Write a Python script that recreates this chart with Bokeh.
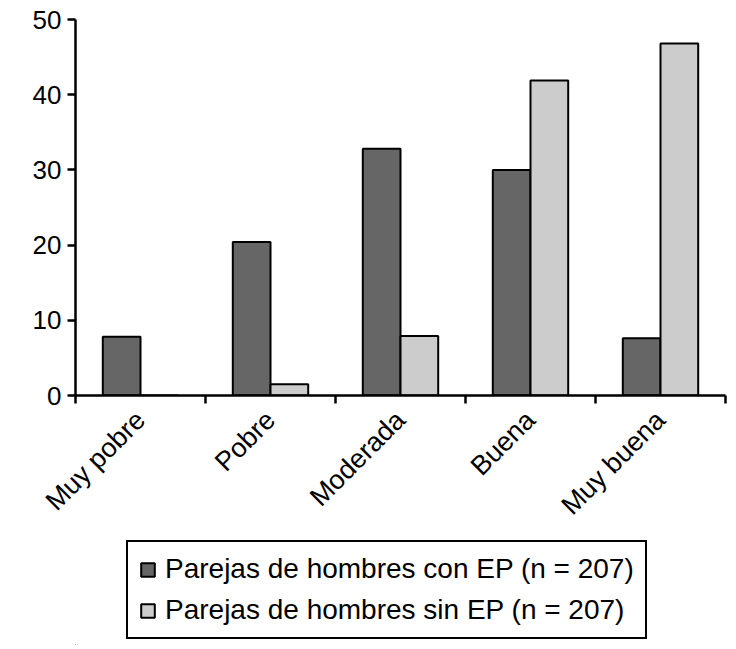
import math
from bokeh.plotting import figure
from bokeh.layouts import column
from bokeh.models import FixedTicker, Legend, LegendItem, Range1d
from bokeh.embed import file_html
from bokeh.resources import INLINE

categories = ["Muy pobre", "Pobre", "Moderada", "Buena", "Muy buena"]
con_ep = [7.8, 20.4, 32.8, 30.0, 7.6]
sin_ep = [0.0, 1.5, 7.9, 41.9, 46.8]
y_ticks = [0, 10, 20, 30, 40, 50]
series_labels = ["Parejas de hombres con EP (n = 207)",
                 "Parejas de hombres sin EP (n = 207)"]
colors = ["#666666", "#cccccc"]

FONT = "Liberation Sans"
n = len(categories)
centers = [i + 0.5 for i in range(n)]
bw = 0.29

p = figure(width=730, height=536, x_range=Range1d(0, n), y_range=Range1d(0, 50),
           output_backend="svg", toolbar_location=None,
           min_border_left=75, min_border_right=5, min_border_top=19,
           min_border_bottom=141)
p.xgrid.visible = False
p.ygrid.visible = False
p.outline_line_color = None
p.background_fill_color = "white"
p.border_fill_color = "white"

p.vbar(x=[c - bw / 2 for c in centers], top=con_ep, width=bw, bottom=0,
       fill_color=colors[0], line_color="black", line_width=2)
p.vbar(x=[c + bw / 2 for c in centers], top=sin_ep, width=bw, bottom=0,
       fill_color=colors[1], line_color="black", line_width=2)

# y axis
ya = p.yaxis[0]
ya.ticker = FixedTicker(ticks=y_ticks)
ya.axis_line_width = 2.5
ya.axis_line_color = "black"
ya.major_tick_line_width = 2.5
ya.major_tick_line_color = "black"
ya.major_tick_out = 8
ya.major_tick_in = 0
ya.minor_tick_line_color = None
ya.major_label_text_font = FONT
ya.major_label_text_font_size = "26px"
ya.major_label_text_color = "black"
ya.major_label_standoff = 6

# x axis
xa = p.xaxis[0]
xa.ticker = FixedTicker(ticks=centers, minor_ticks=list(range(n + 1)))
xa.major_label_overrides = {c: lab for c, lab in zip(centers, categories)}
xa.axis_line_width = 2.5
xa.axis_line_color = "black"
xa.major_tick_line_color = None
xa.minor_tick_line_color = "black"
xa.minor_tick_line_width = 2.5
xa.minor_tick_out = 8
xa.minor_tick_in = 0
xa.major_label_orientation = math.pi / 4
xa.major_label_text_font = FONT
xa.major_label_text_font_size = "27px"
xa.major_label_text_color = "black"
xa.major_label_standoff = 12

# legend panel (proxy renderers placed outside the visible range)
q = figure(width=730, height=109, x_range=Range1d(0, 1), y_range=Range1d(0, 1),
           output_backend="svg", toolbar_location=None,
           min_border_left=75, min_border_right=5, min_border_top=0,
           min_border_bottom=0)
q.axis.visible = False
q.grid.visible = False
q.outline_line_color = None
q.background_fill_color = "white"
q.border_fill_color = "white"
d1 = q.vbar(x=[-5], top=[-5], bottom=[-6], width=0.1, fill_color=colors[0],
            line_color="black", line_width=2)
d2 = q.vbar(x=[-5], top=[-5], bottom=[-6], width=0.1, fill_color=colors[1],
            line_color="black", line_width=2)

legend = Legend(items=[LegendItem(label=series_labels[0], renderers=[d1]),
                       LegendItem(label=series_labels[1], renderers=[d2])],
                location=(51, 6))
legend.border_line_color = "black"
legend.border_line_alpha = 1
legend.border_line_width = 2
legend.background_fill_color = "white"
legend.background_fill_alpha = 1
legend.label_text_font = FONT
legend.label_text_font_size = "28px"
legend.label_text_color = "black"
legend.glyph_width = 17
legend.glyph_height = 17
legend.label_standoff = 9
legend.label_height = 28
legend.padding = 11
legend.spacing = 9
legend.margin = 0
q.add_layout(legend)

open("out.html", "w").write(file_html(column(p, q, spacing=0), INLINE))
